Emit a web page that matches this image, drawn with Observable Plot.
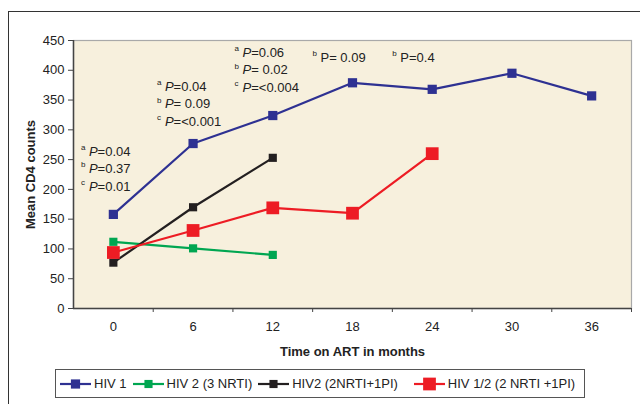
<!DOCTYPE html>
<html>
<head>
<meta charset="utf-8">
<script src="https://cdn.jsdelivr.net/npm/d3@7"></script>
<script src="https://cdn.jsdelivr.net/npm/@observablehq/plot@0.6"></script>
<style>
  html, body { margin: 0; padding: 0; background: #fff; }
  body { width: 640px; height: 404px; position: relative; overflow: hidden; font-family: "Liberation Sans", Arial, sans-serif; }
  #chart { position: absolute; left: 0; top: 0; }
  .frame-top { position: absolute; left: 8px; top: 11px; width: 632px; height: 0; border-top: 1.5px solid #333; }
  .frame-left { position: absolute; left: 7.5px; top: 11px; width: 0; height: 400px; border-left: 1.5px solid #333; }
  #legend { position: absolute; left: 55px; top: 369px; width: 530px; height: 29px; border: 1px solid #555; box-sizing: border-box; display: flex; align-items: center; padding-left: 4px; font-size: 13px; color: #222; white-space: nowrap; }
  .item { display: flex; align-items: center; margin-right: 6px; }
  .item svg { margin-right: 3px; }
</style>
</head>
<body>
<div id="chart"></div>
<div class="frame-top"></div>
<div class="frame-left"></div>
<div id="legend"></div>
<script>
// ---- data ----
const months = [0, 6, 12, 18, 24, 30, 36];
const seriesNames = ["HIV 1", "HIV 2 (3 NRTI)", "HIV2 (2NRTI+1PI)", "HIV 1/2 (2 NRTI +1PI)"];
const seriesColors = ["#2e3192", "#00a651", "#231f20", "#ed1c24"];
const hiv1 = [158, 277, 324, 379, 368, 395, 357];
const hiv2NRTI = [112, 101, 90];
const hiv2PI = [77, 170, 253];
const hiv12 = [94, 131, 169, 160, 260];
const yTicks = [0, 50, 100, 150, 200, 250, 300, 350, 400, 450];
const boundaryTicks = [3, 9, 15, 21, 27, 33, 39];
const xTitle = "Time on ART in months";
const yTitle = "Mean CD4 counts";

// annotation texts (month / value place them in data space)
const annotMonth = [-1.84, -1.84, -1.84, 3.88, 3.88, 3.88, 9.72, 9.72, 9.72, 15.59, 21.6];
const annotValue = [263.6, 235, 204.8, 372.7, 343, 313.6, 429.8, 400.4, 371, 421.4, 421.4];
const annotLetter = ["a", "b", "c", "a", "b", "c", "a", "b", "c", "b", "b"];
const annotText = ["=0.04", "=0.37", "=0.01", "=0.04", "= 0.09", "=<0.001", "=0.06", "= 0.02", "=<0.004", "= 0.09", "=0.4"];
const annotItalic = [true, true, true, true, true, true, true, true, true, false, false];

// ---- build tables ----
const allSeries = [hiv1, hiv2NRTI, hiv2PI, hiv12];
const rows = [];
allSeries.forEach((vals, si) => vals.forEach((v, i) => rows.push({series: seriesNames[si], month: months[i], value: v})));
const annots = annotMonth.map((m, i) => ({month: m, value: annotValue[i], letter: annotLetter[i], text: annotText[i], italic: annotItalic[i]}));
const markerR = [5.2, 4.6, 4.6, 7.2];

const font = "'Liberation Sans', Arial, sans-serif";
const marks = [
  Plot.frame({fill: "#f7f0dd", stroke: "#a9a9a9", strokeWidth: 1.2}),
  Plot.axisY({ticks: yTicks, tickSize: 5, tickPadding: 4, fontSize: 13, label: yTitle, labelAnchor: "center", labelOffset: 48, labelArrow: "none", stroke: "#444", color: "#222"}),
  Plot.axisX({ticks: months, tickSize: 0, tickPadding: 13, fontSize: 13, label: null, color: "#222"}),
  Plot.axisX({ticks: boundaryTicks, tickSize: 4, tickFormat: () => "", label: null, stroke: "#444"}),
  Plot.ruleY([0], {stroke: "#444", strokeWidth: 1.5}),
  Plot.ruleX([-3], {stroke: "#444", strokeWidth: 1.5}),
];
seriesNames.forEach((name, si) => {
  const d = rows.filter(r => r.series === name);
  marks.push(Plot.line(d, {x: "month", y: "value", stroke: seriesColors[si], strokeWidth: 2.2}));
  marks.push(Plot.dot(d, {x: "month", y: "value", symbol: "square", r: markerR[si], fill: seriesColors[si], stroke: "none"}));
});
marks.push(
  Plot.text(annots, {x: "month", y: "value", text: "letter", fontSize: 8, dx: -8, dy: -4, textAnchor: "start", fill: "#222"}),
  Plot.text(annots.filter(a => a.italic), {x: "month", y: "value", text: () => "P", fontSize: 13, fontStyle: "italic", textAnchor: "start", fill: "#222"}),
  Plot.text(annots.filter(a => a.italic), {x: "month", y: "value", text: "text", fontSize: 13, dx: 8.7, textAnchor: "start", fill: "#222"}),
  Plot.text(annots.filter(a => !a.italic), {x: "month", y: "value", text: d => "P" + d.text, fontSize: 13, textAnchor: "start", fill: "#222"}),
  Plot.text([xTitle], {frameAnchor: "bottom", dy: 47, fontSize: 13, fontWeight: "bold", fill: "#222"})
);

const chart = Plot.plot({
  width: 640,
  height: 365,
  marginLeft: 73,
  marginRight: 9,
  marginTop: 40,
  marginBottom: 57,
  style: {fontFamily: font, background: "transparent", overflow: "visible"},
  x: {type: "linear", domain: [-3, 39], axis: null},
  y: {domain: [0, 450], axis: null},
  marks
});
// bold y title
chart.querySelectorAll("g[aria-label='y-axis label'] text").forEach(t => { t.setAttribute("font-weight", "bold"); t.setAttribute("font-size", 13); t.setAttribute("fill", "#222"); });
document.getElementById("chart").appendChild(chart);

// ---- legend ----
const legend = document.getElementById("legend");
seriesNames.forEach((name, si) => {
  const item = document.createElement("div");
  item.className = "item";
  const s = markerR[si] * 1.77;
  const w = 31;
  item.innerHTML = `<svg width="${w}" height="16"><line x1="0" x2="${w}" y1="8" y2="8" stroke="${seriesColors[si]}" stroke-width="2.2"/><rect x="${w/2 - s/2}" y="${8 - s/2}" width="${s}" height="${s}" fill="${seriesColors[si]}"/></svg><span></span>`;
  item.querySelector("span").textContent = name;
  if (si === 2) item.style.marginRight = "16px";
  legend.appendChild(item);
});
</script>
</body>
</html>
